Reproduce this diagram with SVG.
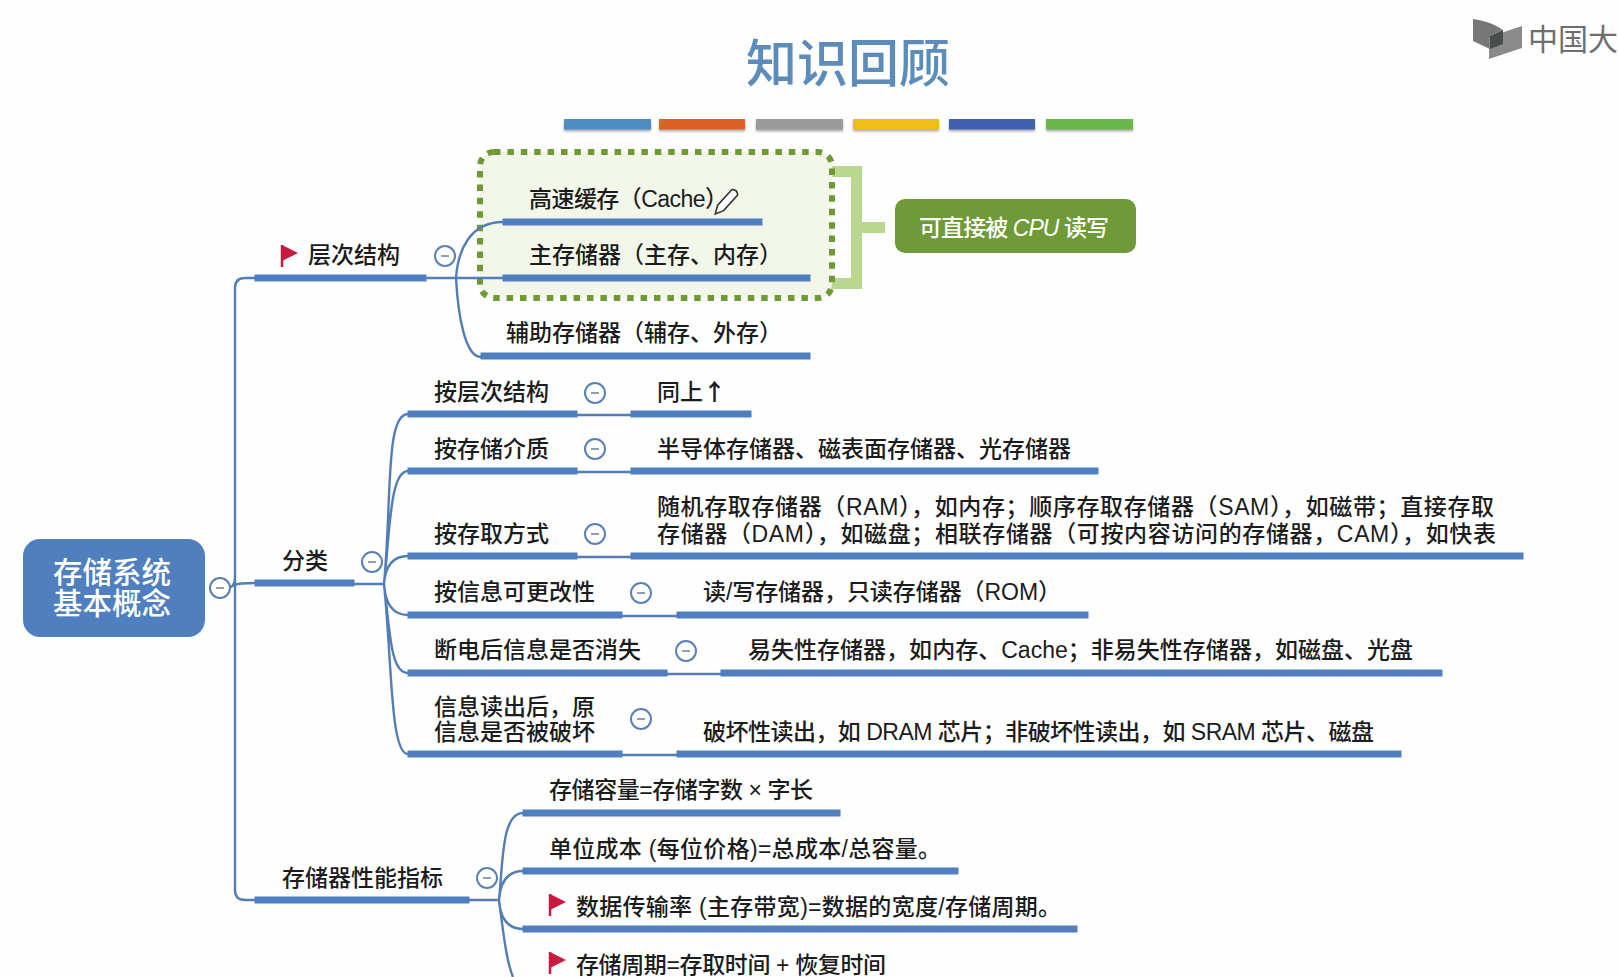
<svg xmlns="http://www.w3.org/2000/svg" width="1619" height="977" viewBox="0 0 1619 977">
<style>
text{font-family:"Liberation Sans","Noto Sans CJK SC",sans-serif;font-size:23px;font-weight:500;fill:#1c1c1c}
.bar{fill:#4f7fbf;stroke:#4f7fbf;stroke-width:1}
.link{fill:none;stroke:#527eb4;stroke-width:2.4}
.dot{fill:#fff;stroke:#5a80b4;stroke-width:2}
.dash{stroke:#8f9fb5;stroke-width:2}
.flag{fill:#c8193f}
.flagpole{stroke:#c8193f;stroke-width:2.5}
</style>
<defs>
<filter id="s" x="-5%" y="-30%" width="110%" height="180%"><feDropShadow dx="0" dy="2" stdDeviation="1.2" flood-color="#777" flood-opacity=".6"/></filter>
<g id="c"><circle class="dot" r="10"/><path class="dash" d="M-4 0H4"/></g>
<g id="f"><path class="flagpole" d="M1 0V22"/><path class="flag" d="M1 0L17 8L1 16Z"/></g>
</defs>
<rect width="1619" height="977" fill="#fdfefd"/>
<g id="title"><text x="746" y="82" style="font-size:51px;fill:#5b8cbc">知识回顾</text></g>
<g id="colour-strip" filter="url(#s)">
<rect x="564" y="119" width="87" height="10.5" fill="#4f8cc4"/>
<rect x="659" y="119" width="86" height="10.5" fill="#de6128"/>
<rect x="756" y="119" width="87" height="10.5" fill="#9a9a9a"/>
<rect x="853" y="119" width="86" height="10.5" fill="#f0bd14"/>
<rect x="949" y="119" width="86" height="10.5" fill="#3e5fae"/>
<rect x="1046" y="119" width="87" height="10.5" fill="#69b84a"/>
</g>
<g id="logo">
<path d="M1473 19Q1490 21 1503 30L1490 36V49L1473 41Z" fill="#777"/>
<path d="M1489 37L1522 26V48L1489 59Z" fill="#8a8a8a"/>
<path d="M1490 36L1503 30V44L1490 49Z" fill="#4a4e4a"/>
<text x="1528" y="50" style="font-size:30px;font-weight:400;fill:#6e6e6e">中国大</text>
</g>
<g id="group-frame">
<path d="M829 171.500H856.500V283.500H829" fill="none" stroke="#b9d78f" stroke-width="11"/>
<path d="M858 227.500H885" fill="none" stroke="#b9d78f" stroke-width="11"/>
<rect x="480" y="152" width="352" height="146" rx="14" fill="#f2f7ea" stroke="#6f9a33" stroke-width="6" stroke-dasharray="6.500 6.900"/>
</g>
<g id="connectors">
<path class="link" d="M220 588H226Q235 588 235 578V288Q235 278 245 278H255M235 578V890Q235 900 245 900H255M235 585Q238 583 255 583"/>
<path class="link" d="M426 278H503M456 278C458 250 470 222 503 222M456 278C458 315 465 357 481 357"/>
<path class="link" d="M354 584H384M384 584C392 500 385 414 408 414M384 584C390 530 390 471 408 471M384 584Q386 556 408 556M384 584Q386 615 408 615M384 584C390 630 390 673 408 673M384 584C392 660 390 754 408 754"/>
<path class="link" d="M577 415H631M577 472H631M577 557H631M622 616H677M667 674H721M622 755H677"/>
<path class="link" d="M469 900H499M499 900C503 860 502 813 523 813M499 900Q501 871 523 871M499 900Q501 929 523 929M499 900C503 930 506 960 513 977"/>
</g>
<g id="bars">
<rect class="bar" x="255" y="275" width="171" height="6"/><rect class="bar" x="255" y="580" width="99" height="6"/><rect class="bar" x="255" y="897" width="214" height="6"/>
<rect class="bar" x="503" y="219" width="259" height="6"/><rect class="bar" x="503" y="275" width="307" height="6"/><rect class="bar" x="481" y="353" width="329" height="6"/>
<rect class="bar" x="408" y="411" width="169" height="6"/><rect class="bar" x="631" y="411" width="120" height="6"/>
<rect class="bar" x="408" y="468" width="169" height="6"/><rect class="bar" x="631" y="468" width="467" height="6"/>
<rect class="bar" x="408" y="553" width="169" height="6"/><rect class="bar" x="631" y="553" width="892" height="6"/>
<rect class="bar" x="408" y="612" width="214" height="6"/><rect class="bar" x="677" y="612" width="411" height="6"/>
<rect class="bar" x="408" y="670" width="259" height="6"/><rect class="bar" x="721" y="670" width="721" height="6"/>
<rect class="bar" x="408" y="751" width="214" height="6"/><rect class="bar" x="677" y="751" width="724" height="6"/>
<rect class="bar" x="523" y="810" width="317" height="6"/><rect class="bar" x="523" y="868" width="435" height="6"/><rect class="bar" x="523" y="926" width="554" height="6"/>
</g>
<g id="root"><rect x="23" y="539" width="182" height="98" rx="17" fill="#4f7fbf"/>
<text x="53" y="583" style="font-size:29.500px;fill:#fff">存储系统</text><text x="53" y="614" style="font-size:29.500px;fill:#fff">基本概念</text><use href="#c" x="220" y="588"/></g>
<g id="n-levels"><use href="#f" x="281" y="245"/><text x="308" y="263">层次结构</text><use href="#c" x="445" y="256"/></g>
<g id="n-cache"><text x="529" y="207" textLength="199">高速缓存（Cache）</text>
<g transform="translate(726 202) rotate(42)" fill="#fff" stroke="#333" stroke-width="1.6"><path d="M-4-13Q0-17 4-13V8L0 16L-4 8Z"/></g></g>
<g id="n-main"><text x="529" y="263">主存储器（主存、内存）</text></g>
<g id="n-aux"><text x="506" y="341">辅助存储器（辅存、外存）</text></g>
<g id="n-cpu"><rect x="895" y="199" width="241" height="54" rx="10" fill="#6f9a38"/><text x="919" y="236" textLength="190" style="fill:#fff">可直接被 <tspan font-style="italic">CPU</tspan> 读写</text></g>
<g id="n-class"><text x="282" y="569">分类</text><use href="#c" x="372" y="562"/></g>
<g id="n-c1"><text x="434" y="400">按层次结构</text><use href="#c" x="595" y="393"/><text x="657" y="400">同上<tspan font-family="Noto Sans CJK SC" font-weight="700">↑</tspan></text></g>
<g id="n-c2"><text x="434" y="457">按存储介质</text><use href="#c" x="595" y="449"/><text x="657" y="457">半导体存储器、磁表面存储器、光存储器</text></g>
<g id="n-c3"><text x="434" y="542">按存取方式</text><use href="#c" x="595" y="534"/><text x="657" y="515" textLength="837">随机存取存储器（RAM），如内存；顺序存取存储器（SAM），如磁带；直接存取</text><text x="657" y="542" textLength="839">存储器（DAM），如磁盘；相联存储器（可按内容访问的存储器，CAM），如快表</text></g>
<g id="n-c4"><text x="434" y="600">按信息可更改性</text><use href="#c" x="641" y="593"/><text x="703" y="600" textLength="358">读/写存储器，只读存储器（ROM）</text></g>
<g id="n-c5"><text x="434" y="658">断电后信息是否消失</text><use href="#c" x="686" y="651"/><text x="748" y="658" textLength="665">易失性存储器，如内存、Cache；非易失性存储器，如磁盘、光盘</text></g>
<g id="n-c6"><text x="434" y="715">信息读出后，原</text><text x="434" y="740">信息是否被破坏</text><use href="#c" x="641" y="719"/><text x="703" y="740" textLength="671">破坏性读出，如 DRAM 芯片；非破坏性读出，如 SRAM 芯片、磁盘</text></g>
<g id="n-perf"><text x="282" y="886">存储器性能指标</text><use href="#c" x="487" y="878"/></g>
<g id="n-p1"><text x="549" y="798" textLength="264">存储容量=存储字数 × 字长</text></g>
<g id="n-p2"><text x="549" y="857" textLength="392">单位成本 (每位价格)=总成本/总容量。</text></g>
<g id="n-p3"><use href="#f" x="549" y="894"/><text x="576" y="915" textLength="485">数据传输率 (主存带宽)=数据的宽度/存储周期。</text></g>
<g id="n-p4"><use href="#f" x="549" y="952"/><text x="576" y="973" textLength="310">存储周期=存取时间 + 恢复时间</text></g>
</svg>
